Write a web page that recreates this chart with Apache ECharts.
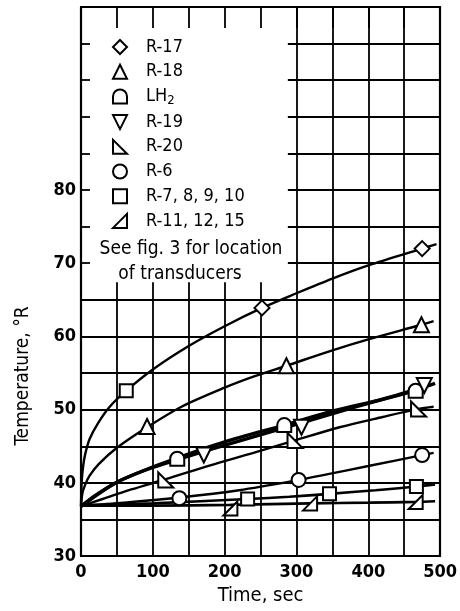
<!DOCTYPE html>
<html>
<head>
<meta charset="utf-8">
<script src="https://cdn.jsdelivr.net/npm/echarts@6/dist/echarts.min.js"></script>
<style>
  html, body { margin: 0; padding: 0; background: #fff; }
  #chart { width: 460px; height: 611px; }
</style>
</head>
<body>
<div id="chart"></div>
<script>
// Temperature histories of the transducers, time in sec, temperature in deg R.
// Faired curves
const curveR17 = [[0,36.8],[1,40.2],[3,42.3],[6,44.0],[12,46.0],[24,48.2],[40,50.4],[63,52.6],[100,55.5],[150,58.7],[200,61.4],[252,63.9],[300,65.9],[350,67.9],[400,69.7],[475,72.0],[495,72.6]];
const curveR18 = [[0,36.8],[2,38.6],[6,39.8],[12,41.0],[25,42.6],[50,44.8],[92,47.6],[140,50.4],[200,53.0],[240,54.5],[286,56.0],[350,58.1],[400,59.6],[474,61.6],[491,62.1]];
const curveLH2 = [[0,36.8],[20,38.3],[50,40.1],[90,41.8],[134,43.4],[200,45.6],[283,47.9],[350,49.8],[420,51.4],[466,52.6]];
const curveR19 = [[0,36.8],[50,40.1],[100,42.1],[171,44.3],[240,46.3],[307,48.2],[380,50.3],[440,52.0],[478,53.1],[493,53.6]];
const curveR20 = [[0,36.8],[30,37.8],[70,39.1],[118,40.5],[180,42.4],[240,44.1],[298,45.8],[360,47.6],[420,49.0],[470,50.1],[491,50.4]];
const curveR6  = [[0,36.9],[60,37.3],[137,38.0],[220,39.0],[303,40.4],[344,41.2],[400,42.3],[475,43.8],[491,44.1]];
const curveR7  = [[0,36.9],[100,37.2],[232,37.8],[290,38.1],[346,38.5],[410,39.0],[467,39.5],[493,39.8]];
const curveR11 = [[0,36.9],[100,36.9],[208,37.0],[319,37.2],[400,37.3],[466,37.4],[493,37.5]];

// Measured points
const pointsR17 = [[252,63.9],[475,72.0]];
const pointsR18 = [[92,47.7],[286,56.0],[474,61.6]];
const pointsLH2 = [[134,43.3],[283,47.9],[466,52.6]];
const pointsR19 = [[171,43.8],[307,47.6],[478,53.3]];
const pointsR20 = [[118,40.4],[298,45.8],[470,50.1]];
const pointsR6  = [[137,37.9],[303,40.4],[475,43.8]];
const pointsR7  = [[63,52.6],[232,37.8],[346,38.5],[467,39.5]];
const pointsR11 = [[208,36.5],[319,37.2],[466,37.4]];

const seriesNames = ['R-17', 'R-18', 'LH2', 'R-19', 'R-20', 'R-6', 'R-7, 8, 9, 10', 'R-11, 12, 15'];
const xTicks = [0, 100, 200, 300, 400, 500];
const yTicks = [30, 40, 50, 60, 70, 80];
const noteLines = ['See fig. 3 for location', 'of transducers'];

const FONT = '"Liberation Sans Narrow", "DejaVu Sans Condensed", "Liberation Sans", sans-serif';

const SYM = {
  diamond: 'diamond',
  up: 'triangle',
  dome: 'path://M0,10 L0,5 A5,5 0 0 1 10,5 L10,10 Z',
  down: 'path://M0,0 L10,0 L5,10 Z',
  rightTri: 'path://M0,0 L0,10 L10,10 Z',
  circle: 'circle',
  square: 'rect',
  leftTri: 'path://M10,0 L10,10 L0,10 Z'
};

const curves = [curveR17, curveR18, curveLH2, curveR19, curveR20, curveR6, curveR7, curveR11];
const curveWidths = [2.4, 2.4, 3.4, 3.4, 2.4, 2.4, 2.6, 2.6];
const points = [pointsR17, pointsR18, pointsLH2, pointsR19, pointsR20, pointsR6, pointsR7, pointsR11];
const symbols = [SYM.diamond, SYM.up, SYM.dome, SYM.down, SYM.rightTri, SYM.circle, SYM.square, SYM.leftTri];
const symbolSizes = [15, 15, 14, 15, 15, 14, 13, 14];

const series = [];
// white panel behind the key, hiding the grid there
series.push({
  type: 'line', name: 'panel', data: [], z: 1, silent: true,
  markArea: {
    silent: true,
    itemStyle: { color: '#fff', opacity: 1 },
    data: [[{ coord: [0, 67.4] }, { coord: [288, 105] }]]
  }
});
curves.forEach((c, i) => {
  series.push({
    type: 'line', name: 'curve ' + seriesNames[i], data: c,
    smooth: 0.3, showSymbol: false, symbol: 'none', silent: true, z: 2,
    lineStyle: { color: '#000', width: curveWidths[i] }
  });
});
points.forEach((p, i) => {
  series.push({
    type: 'scatter', name: seriesNames[i], data: p, z: 4,
    symbol: symbols[i], symbolSize: symbolSizes[i],
    itemStyle: { color: '#fff', borderColor: '#000', borderWidth: 2, opacity: 1 }
  });
});

const tickFont = { color: '#000', fontFamily: FONT, fontSize: 18, fontWeight: 'bold' };

const chart = echarts.init(document.getElementById('chart'), null, { renderer: 'canvas' });
chart.setOption({
  animation: false,
  backgroundColor: '#fff',
  grid: { left: 81, right: 17, top: 7, bottom: 52, containLabel: false },
  xAxis: [
    { // grid lines
      type: 'value', min: 0, max: 500, interval: 50, z: 0,
      axisLine: { show: false }, axisTick: { show: false }, axisLabel: { show: false },
      splitLine: { show: true, lineStyle: { color: '#000', width: 1.8 } }
    },
    { // frame, labels, name
      type: 'value', min: 0, max: 500, interval: 50, z: 5, position: 'bottom',
      axisLine: { show: true, onZero: false, lineStyle: { color: '#000', width: 2.2 } },
      axisTick: { show: false }, splitLine: { show: false },
      axisLabel: Object.assign({ margin: 7, formatter: v => xTicks.indexOf(v) >= 0 ? String(v) : '' }, tickFont),
      name: 'Time, sec', nameLocation: 'middle', nameGap: 28,
      nameTextStyle: { color: '#000', fontFamily: FONT, fontSize: 20 }
    },
    { // top frame with inward ticks
      type: 'value', min: 0, max: 500, interval: 50, z: 5, position: 'top',
      axisLine: { show: true, onZero: false, lineStyle: { color: '#000', width: 2.2 } },
      axisTick: { show: true, inside: true, length: 21, lineStyle: { color: '#000', width: 1.8 } },
      axisLabel: { show: false }, splitLine: { show: false }
    }
  ],
  yAxis: [
    {
      type: 'value', min: 30, max: 105, interval: 5, z: 0,
      axisLine: { show: false }, axisTick: { show: false }, axisLabel: { show: false },
      splitLine: { show: true, lineStyle: { color: '#000', width: 1.8 } }
    },
    {
      type: 'value', min: 30, max: 105, interval: 5, z: 5, position: 'left',
      axisLine: { show: true, onZero: false, lineStyle: { color: '#000', width: 2.2 } },
      axisTick: { show: true, inside: true, length: 9, lineStyle: { color: '#000', width: 1.8 } },
      splitLine: { show: false },
      axisLabel: Object.assign({ margin: 5, formatter: v => yTicks.indexOf(v) >= 0 ? String(v) : '' }, tickFont)
    },
    {
      type: 'value', min: 30, max: 105, interval: 5, z: 5, position: 'right',
      axisLine: { show: true, onZero: false, lineStyle: { color: '#000', width: 2.2 } },
      axisTick: { show: false }, axisLabel: { show: false }, splitLine: { show: false }
    }
  ],
  legend: {
    orient: 'vertical', left: 107, top: 32,
    itemWidth: 14, itemHeight: 14, itemGap: 4.7,
    selectedMode: false,
    data: seriesNames,
    formatter: name => name === 'LH2' ? '{t|LH}{sub|2}' : '{t|' + name + '}',
    textStyle: {
      color: '#000', fontFamily: FONT, fontSize: 18, lineHeight: 20, padding: [0, 0, 0, 14],
      rich: {
        t: { color: '#000', fontFamily: FONT, fontSize: 18, lineHeight: 20 },
        sub: { color: '#000', fontFamily: FONT, fontSize: 13, padding: [9, 0, 0, 0] }
      }
    }
  },
  graphic: [
    { type: 'text', x: 191, y: 249, style: { text: noteLines[0], fill: '#000', font: '19px ' + FONT, textAlign: 'center', textVerticalAlign: 'middle' }, z: 10 },
    { type: 'text', x: 180, y: 274, style: { text: noteLines[1], fill: '#000', font: '19px ' + FONT, textAlign: 'center', textVerticalAlign: 'middle' }, z: 10 },
    { type: 'text', x: 23, y: 376, rotation: Math.PI / 2, style: { text: 'Temperature, \u00B0R', fill: '#000', font: '19px ' + FONT, textAlign: 'center', textVerticalAlign: 'middle' }, z: 10 }
  ],
  series: series
});
</script>
</body>
</html>
